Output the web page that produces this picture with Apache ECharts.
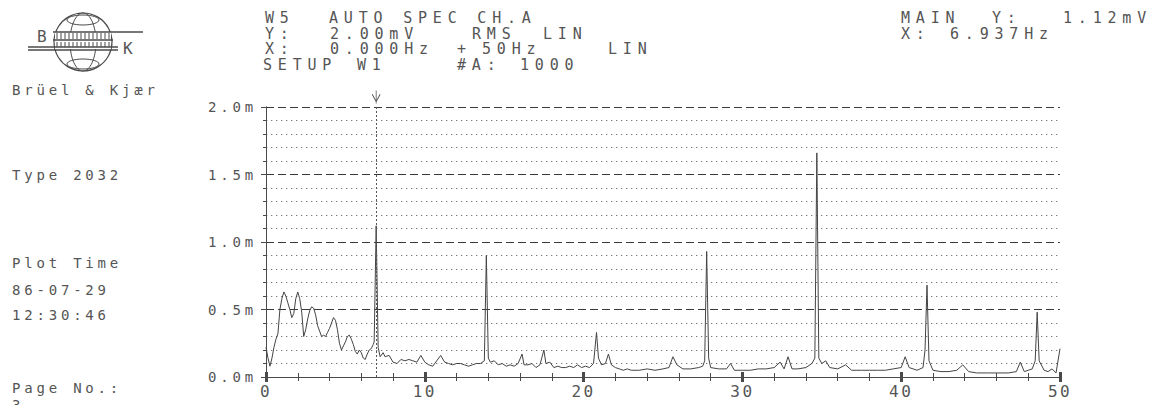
<!DOCTYPE html>
<html>
<head>
<meta charset="utf-8">
<script src="https://cdn.jsdelivr.net/npm/echarts@6/dist/echarts.min.js"></script>
<style>
  html, body { margin: 0; padding: 0; background: #ffffff; }
  #chart { width: 1151px; height: 405px; }
  #chart text { letter-spacing: 3.5px; }
  #chart text[style*="15px"] { letter-spacing: 5.8px; }
  #chart text[style*="16px"] { letter-spacing: 2.5px; }
  #chart text[style*="14px"] { letter-spacing: 3.8px; }
</style>
</head>
<body>
<div id="chart"></div>
<script>
// ---- data (frequency in Hz, amplitude in mV RMS) ----
const freqs = [
  0, 0.125, 0.25, 0.375, 0.5, 0.625, 0.75, 0.875, 1.0, 1.125, 1.25, 1.375, 1.5, 1.625, 1.75, 1.875,
  2.0, 2.125, 2.25, 2.375, 2.5, 2.625, 2.75, 2.875, 3.0, 3.125, 3.25, 3.375, 3.5, 3.625, 3.75, 3.875,
  4.0, 4.125, 4.25, 4.375, 4.5, 4.625, 4.75, 4.875, 5.0, 5.125, 5.25, 5.375, 5.5, 5.625, 5.75, 5.875,
  6.0, 6.125, 6.25, 6.375, 6.5, 6.625, 6.75, 6.8125, 6.9375, 7.0625, 7.1875, 7.375, 7.5, 7.75,
  8.0, 8.25, 8.5, 8.75, 9.0, 9.25, 9.5, 9.75, 10.0, 10.25, 10.5, 10.75, 11.0, 11.25, 11.5, 11.75,
  12.0, 12.25, 12.5, 12.75, 13.0, 13.25, 13.5, 13.75, 13.875, 14.0, 14.125, 14.375, 14.625, 14.875,
  15.125, 15.375, 15.625, 15.875, 16.125, 16.25, 16.5, 16.75, 17.0, 17.25, 17.5, 17.625, 17.875,
  18.125, 18.375, 18.625, 18.875, 19.125, 19.375, 19.625, 19.875, 20.125, 20.375, 20.625, 20.8125,
  20.9375, 21.125, 21.375, 21.5625, 21.75, 22.0, 22.25, 22.5, 22.75, 23.0, 23.5, 24.0, 24.5, 25.0,
  25.375, 25.625, 25.875, 26.25, 26.75, 27.25, 27.5, 27.625, 27.75, 27.875, 28.0, 28.5, 29.0, 29.25,
  29.5, 30.0, 30.5, 31.0, 31.5, 32.0, 32.375, 32.625, 32.875, 33.125, 33.5, 34.0, 34.375, 34.5625,
  34.6875, 34.8125, 35.0, 35.25, 35.5, 36.0, 36.5, 36.875, 37.5, 38.0, 38.5, 39.0, 39.5, 40.0, 40.25,
  40.5, 41.0, 41.375, 41.5, 41.625, 41.75, 42.0, 42.5, 43.0, 43.5, 43.875, 44.25, 44.75, 45.5, 46.0,
  46.75, 47.25, 47.5, 47.75, 48.25, 48.4375, 48.5625, 48.6875, 49.0, 49.25, 49.5, 49.75, 50.0
];
const amps = [
  0.22, 0.14, 0.08, 0.14, 0.22, 0.28, 0.32, 0.50, 0.58, 0.63, 0.60, 0.55, 0.50, 0.44, 0.47, 0.58,
  0.63, 0.58, 0.48, 0.30, 0.35, 0.43, 0.49, 0.52, 0.51, 0.46, 0.38, 0.34, 0.30, 0.31, 0.30, 0.33,
  0.36, 0.40, 0.44, 0.42, 0.35, 0.25, 0.20, 0.23, 0.26, 0.30, 0.31, 0.28, 0.24, 0.19, 0.17, 0.20,
  0.18, 0.14, 0.13, 0.17, 0.20, 0.21, 0.24, 0.26, 1.12, 0.22, 0.15, 0.18, 0.15, 0.16,
  0.11, 0.10, 0.13, 0.12, 0.13, 0.12, 0.11, 0.16, 0.11, 0.09, 0.08, 0.12, 0.16, 0.11, 0.10, 0.09,
  0.10, 0.10, 0.09, 0.08, 0.09, 0.10, 0.10, 0.12, 0.90, 0.14, 0.11, 0.12, 0.09, 0.10,
  0.08, 0.09, 0.08, 0.10, 0.17, 0.09, 0.09, 0.10, 0.07, 0.09, 0.20, 0.10, 0.11,
  0.07, 0.08, 0.07, 0.07, 0.08, 0.07, 0.09, 0.07, 0.08, 0.07, 0.10, 0.33,
  0.14, 0.09, 0.10, 0.17, 0.09, 0.07, 0.06, 0.05, 0.06, 0.05, 0.05, 0.06, 0.05, 0.06,
  0.07, 0.15, 0.09, 0.06, 0.06, 0.07, 0.08, 0.12, 0.93, 0.14, 0.07, 0.06, 0.06, 0.10,
  0.05, 0.05, 0.05, 0.06, 0.06, 0.07, 0.11, 0.06, 0.15, 0.06, 0.06, 0.07, 0.10, 0.14,
  1.66, 0.14, 0.10, 0.12, 0.07, 0.06, 0.09, 0.05, 0.05, 0.05, 0.05, 0.05, 0.06, 0.07, 0.15,
  0.07, 0.05, 0.07, 0.20, 0.68, 0.12, 0.05, 0.04, 0.04, 0.05, 0.09, 0.04, 0.03, 0.03, 0.03,
  0.03, 0.04, 0.11, 0.04, 0.06, 0.12, 0.48, 0.12, 0.05, 0.04, 0.06, 0.03, 0.21
];
const cursorHz = 6.9375;
const yTickLabels = ['0.0m', '0.5m', '1.0m', '1.5m', '2.0m'];
const xTickLabels = ['0', '10', '20', '30', '40', '50'];

const headerLeft = [
  ['W5', 'AUTO SPEC CH.A'],
  ['Y:', '2.00mV', 'RMS', 'LIN'],
  ['X:', '0.000Hz', '+', '50Hz', 'LIN'],
  ['SETUP', 'W1', '#A:', '1000']
];
const headerRight = [
  ['MAIN', 'Y:', '1.12mV'],
  ['X:', '6.937Hz']
];
const sideTexts = ['Brüel & Kjær', 'Type 2032', 'Plot Time', '86-07-29', '12:30:46', 'Page No.:', '3'];

// ---- layout ----
const INK = '#4a4a4a';
const TXT = '#555555';
const FONT = '"DejaVu Sans Mono", "Liberation Mono", monospace';

const headerLeftX = [
  [265, 329],
  [265, 330, 472, 543],
  [265, 330, 457, 482, 608],
  [263, 357, 457, 520]
];
const headerRightX = [
  [901, 992, 1152],
  [901, 950]
];
const headerRightAlign = [
  ['left', 'left', 'right'],
  ['left', 'left']
];
const headerY = [18, 33.5, 49, 64.5];
const sideY = [90, 175, 263, 290, 315, 388, 405];

const graphics = [];
headerLeft.forEach((row, r) => row.forEach((w, i) => graphics.push({
  type: 'text', x: headerLeftX[r][i], y: headerY[r], silent: true,
  style: { text: w, font: '15px ' + FONT, fill: TXT, verticalAlign: 'middle' }
})));
headerRight.forEach((row, r) => row.forEach((w, i) => graphics.push({
  type: 'text', x: headerRightX[r][i], y: headerY[r], silent: true,
  style: { text: w, font: '15px ' + FONT, fill: TXT, verticalAlign: 'middle', align: headerRightAlign[r][i] }
})));
sideTexts.forEach((t, i) => graphics.push({
  type: 'text', x: 12, y: sideY[i], silent: true,
  style: { text: t, font: '14px ' + FONT, fill: TXT, verticalAlign: 'middle' }
}));

// Brüel & Kjær logo (decoration)
const logo = { type: 'group', x: 83, y: 42, silent: true, children: [] };
logo.children.push({ type: 'circle', shape: { cx: 0, cy: 0, r: 29 }, style: { fill: 'none', stroke: INK, lineWidth: 1.2 } });
logo.children.push({ type: 'ellipse', shape: { cx: 0, cy: 0, rx: 13, ry: 29 }, style: { fill: 'none', stroke: INK, lineWidth: 1 } });
logo.children.push({ type: 'ellipse', shape: { cx: 0, cy: -22, rx: 16, ry: 5 }, style: { fill: 'none', stroke: INK, lineWidth: 1 } });
logo.children.push({ type: 'ellipse', shape: { cx: 0, cy: 22, rx: 16, ry: 5 }, style: { fill: 'none', stroke: INK, lineWidth: 1 } });
logo.children.push({ type: 'rect', shape: { x: -28, y: -10, width: 56, height: 17 }, style: { fill: '#fff', stroke: 'none' } });
for (let k = -26; k <= 26; k += 4) {
  logo.children.push({ type: 'line', shape: { x1: k, y1: -9, x2: k, y2: -3 }, style: { stroke: INK, lineWidth: 1 } });
  logo.children.push({ type: 'line', shape: { x1: k, y1: 0, x2: k, y2: 5 }, style: { stroke: INK, lineWidth: 1 } });
}
logo.children.push({ type: 'line', shape: { x1: -30, y1: -10, x2: 60, y2: -10 }, style: { stroke: INK, lineWidth: 1.3 } });
logo.children.push({ type: 'line', shape: { x1: -30, y1: -2, x2: 30, y2: -2 }, style: { stroke: INK, lineWidth: 1.3 } });
logo.children.push({ type: 'line', shape: { x1: -55, y1: 5, x2: 35, y2: 5 }, style: { stroke: INK, lineWidth: 1.3 } });
logo.children.push({ type: 'line', shape: { x1: -55, y1: 8, x2: 35, y2: 8 }, style: { stroke: INK, lineWidth: 1.3 } });
logo.children.push({ type: 'text', x: -46, y: -6, style: { text: 'B', font: '16px ' + FONT, fill: TXT, verticalAlign: 'middle' } });
logo.children.push({ type: 'text', x: 40, y: 6, style: { text: 'K', font: '16px ' + FONT, fill: TXT, verticalAlign: 'middle' } });
graphics.push(logo);

const seriesData = freqs.map((f, i) => [f, amps[i]]);

const chart = echarts.init(document.getElementById('chart'), null, { renderer: 'svg' });
chart.setOption({
  animation: false,
  backgroundColor: '#ffffff',
  grid: { left: 266, right: 91, top: 107, bottom: 28, containLabel: false },
  graphic: graphics,
  xAxis: [
    {
      type: 'value', position: 'bottom', min: 0, max: 50, interval: 10, offset: 1,
      axisLine: { show: true, lineStyle: { color: INK, width: 1 } },
      axisTick: { show: true, length: 5, lineStyle: { color: INK, width: 3 } },
      minorTick: { show: true, splitNumber: 5, length: 4, lineStyle: { color: INK, width: 1 } },
      splitLine: { show: false },
      axisLabel: {
        color: TXT, fontFamily: 'DejaVu Sans Mono', fontSize: 16, margin: 5,
        formatter: (v) => xTickLabels[Math.round(v / 10)]
      }
    },
    {
      type: 'value', position: 'top', min: 0, max: 50, interval: 10, offset: 2,
      axisLine: { show: true, lineStyle: { color: INK, width: 1 } },
      axisTick: { show: true, length: 5, lineStyle: { color: INK, width: 3 } },
      minorTick: { show: true, splitNumber: 5, length: 4, lineStyle: { color: INK, width: 1 } },
      splitLine: { show: false },
      axisLabel: { show: false }
    }
  ],
  yAxis: [
    {
      type: 'value', position: 'left', min: 0, max: 2, interval: 0.5,
      axisLine: { show: true, lineStyle: { color: INK, width: 1 } },
      axisTick: { show: true, length: 5, lineStyle: { color: INK, width: 1 } },
      minorTick: { show: true, splitNumber: 5, length: 3, lineStyle: { color: INK, width: 1 } },
      splitLine: { show: true, lineStyle: { color: '#3a3a3a', width: 1.2, type: [8, 4] } },
      minorSplitLine: { show: true, lineStyle: { color: '#777', width: 1.2, type: [1.3, 3.7] } },
      axisLabel: {
        color: TXT, fontFamily: 'DejaVu Sans Mono', fontSize: 14, margin: 9,
        formatter: (v) => yTickLabels[Math.round(v / 0.5)]
      }
    },
    {
      type: 'value', position: 'right', min: 0, max: 2, interval: 0.5,
      axisLine: { show: true, lineStyle: { color: INK, width: 1 } },
      axisTick: { show: false }, axisLabel: { show: false }, splitLine: { show: false }
    }
  ],
  series: [
    {
      type: 'line', xAxisIndex: 0, yAxisIndex: 0, data: seriesData,
      showSymbol: false, symbol: 'none', silent: true,
      lineStyle: { color: '#444', width: 1 },
      markLine: {
        silent: true, symbol: 'none', label: { show: false },
        lineStyle: { color: '#555', width: 1, type: [2, 2] },
        data: [{ xAxis: cursorHz }]
      },
      markPoint: {
        silent: true,
        symbol: 'path://M0,0 L4,8 L8,0 M4,-4 L4,10',
        symbolSize: [8, 13], symbolOffset: [0, -10],
        itemStyle: { color: 'none', borderColor: '#555', borderWidth: 1 },
        label: { show: false },
        data: [{ coord: [cursorHz, 2] }]
      }
    }
  ]
});
</script>
</body>
</html>
